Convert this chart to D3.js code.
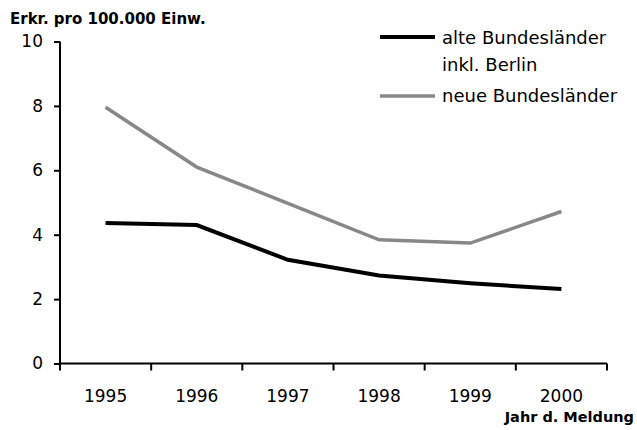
<!DOCTYPE html>
<html><head><meta charset="utf-8">
<script src="https://cdn.jsdelivr.net/npm/d3@7"></script>
<style>body{margin:0;background:#fff}svg{display:block}text{font-family:"DejaVu Sans",sans-serif}</style>
</head><body><svg id="c" width="637" height="430"></svg>
<script>
const years = ["1995","1996","1997","1998","1999","2000"];
const alte = [4.36, 4.30, 3.22, 2.73, 2.49, 2.31];
const neue = [7.96, 6.10, 4.97, 3.84, 3.74, 4.72];
const yTicks = [0,2,4,6,8,10];
const seriesNames = ["alte Bundesländer", "neue Bundesländer"];

const svg = d3.select("#c");
const x = d3.scaleBand().domain(years).range([60, 607]);
const y = d3.scaleLinear().domain([0, 10]).range([363.5, 41.5]);
const fs = 17;
const ff = "DejaVu Sans";

// y axis
const ya = svg.append("g").attr("transform","translate(60,0)")
  .call(d3.axisLeft(y).tickValues(yTicks).tickSize(6).tickPadding(11).tickFormat(d3.format("d")));
ya.select(".domain").attr("stroke","#000").attr("stroke-width",2).attr("d",`M0,${y(10)}V${y(0)}`);
ya.selectAll(".tick line").attr("stroke","#000").attr("stroke-width",2);
ya.selectAll(".tick text").attr("font-size",fs).attr("font-family",ff).attr("fill","#000");

// x axis
const xa = svg.append("g").attr("transform",`translate(0,${y(0)})`)
  .call(d3.axisBottom(x).tickSize(0).tickPadding(26));
xa.select(".domain").attr("stroke","#000").attr("stroke-width",2).attr("d",`M60,0H607`);
xa.selectAll(".tick text").attr("font-size",fs).attr("font-family",ff).attr("fill","#000");
const edges = years.map(d => x(d)).concat([x(years[years.length-1]) + x.bandwidth()]);
xa.selectAll("line.edge").data(edges).enter().append("line").attr("class","edge")
  .attr("x1",d=>d).attr("x2",d=>d).attr("y1",0).attr("y2",7).attr("stroke","#000").attr("stroke-width",2);

const line = d3.line().x((d,i)=>x(years[i]) + x.bandwidth()/2).y(d=>y(d));
svg.append("path").attr("d", line(neue)).attr("fill","none").attr("stroke","#888").attr("stroke-width",3.5);
svg.append("path").attr("d", line(alte)).attr("fill","none").attr("stroke","#000").attr("stroke-width",4);

// titles
svg.append("text").attr("x",10).attr("y",24).attr("font-size",15).attr("font-weight","bold").text("Erkr. pro 100.000 Einw.");
svg.append("text").attr("x",634).attr("y",422).attr("text-anchor","end").attr("font-size",14.5).attr("font-weight","bold").text("Jahr d. Meldung");

// legend
svg.append("line").attr("x1",380).attr("x2",435).attr("y1",37).attr("y2",37).attr("stroke","#000").attr("stroke-width",4);
svg.append("text").attr("x",442).attr("y",44).attr("font-size",18).text(seriesNames[0]);
svg.append("text").attr("x",442).attr("y",71).attr("font-size",18).text("inkl. Berlin");
svg.append("line").attr("x1",380).attr("x2",435).attr("y1",96).attr("y2",96).attr("stroke","#888").attr("stroke-width",3.5);
svg.append("text").attr("x",442).attr("y",102).attr("font-size",18).text(seriesNames[1]);
</script></body></html>
